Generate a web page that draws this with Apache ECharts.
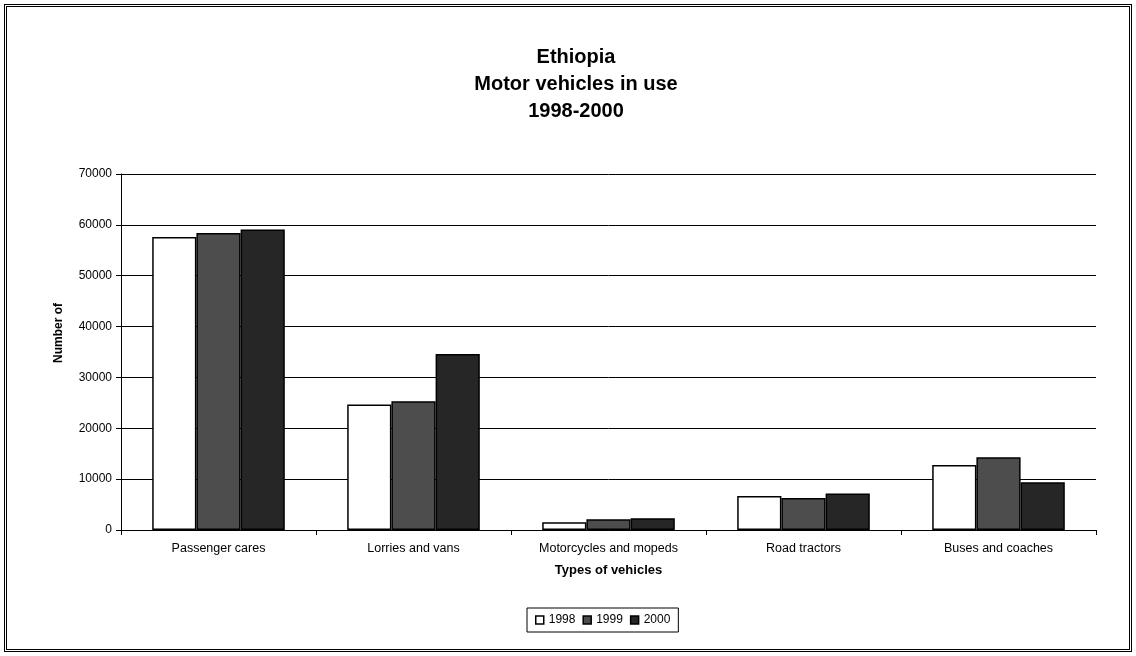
<!DOCTYPE html>
<html>
<head>
<meta charset="utf-8">
<script src="https://cdn.jsdelivr.net/npm/echarts@6/dist/echarts.min.js"></script>
<style>
  html,body{margin:0;padding:0;background:#fff;}
  #frame{position:absolute;left:4px;top:4px;width:1122px;height:642px;border:3px double #000;}
  #main{width:100%;height:100%;}
</style>
</head>
<body>
<div id="frame"><div id="main"></div></div>
<script>
// data
var categories = ['Passenger cares', 'Lorries and vans', 'Motorcycles and mopeds', 'Road tractors', 'Buses and coaches'];
var years = ['1998', '1999', '2000'];
var v1998 = [57600, 24700, 1500, 6700, 12800];
var v1999 = [58400, 25300, 2100, 6300, 14300];
var v2000 = [59100, 34600, 2300, 7200, 9400];
var barColors = ['#ffffff', '#4d4d4d', '#262626'];

var myChart = echarts.init(document.getElementById('main'));

var values = [v1998, v1999, v2000];
var series = [];
for (var i = 0; i < years.length; i++) {
    series.push({
        name: years[i],
        type: 'bar',
        barGap: '0%',
        barCategoryGap: '32%',
        data: values[i],
        itemStyle: {color: barColors[i], borderColor: '#000', borderWidth: 1.5}
    });
}

var font = 'Arial, Liberation Sans, sans-serif';

var option = {
    animation: false,
    textStyle: {fontFamily: font, color: '#000'},
    title: {
        text: 'Ethiopia\nMotor vehicles in use\n1998-2000',
        left: 564, top: 32, textAlign: 'center',
        textStyle: {fontSize: 20, fontWeight: 'bold', lineHeight: 27, color: '#000', fontFamily: font}
    },
    legend: {
        data: years,
        left: 520, top: 601,
        itemWidth: 8, itemHeight: 8, itemGap: 7,
        icon: 'rect',
        borderColor: '#000', borderWidth: 1, padding: [6, 8],
        textStyle: {fontSize: 12, color: '#000'},
        itemStyle: {borderColor: '#000', borderWidth: 1.5}
    },
    // y axis title placed by hand, it sits above the middle of the axis
    graphic: [{
        type: 'text',
        left: 46, top: 296,
        rotation: Math.PI / 2,
        style: {text: 'Number of', fontSize: 12, fontWeight: 'bold', fill: '#000', fontFamily: font}
    }],
    grid: {left: 114, right: 33, top: 167, bottom: 119},
    xAxis: {
        type: 'category',
        data: categories,
        name: 'Types of vehicles',
        nameLocation: 'middle',
        nameGap: 34,
        nameTextStyle: {fontSize: 13, fontWeight: 'bold', color: '#000'},
        axisLine: {lineStyle: {color: '#000'}},
        axisTick: {show: true, lineStyle: {color: '#000'}},
        axisLabel: {fontSize: 12.5, color: '#000', margin: 12}
    },
    yAxis: {
        type: 'value',
        min: 0, max: 70000, interval: 10000,
        axisLine: {show: true, lineStyle: {color: '#000'}},
        axisTick: {show: true, lineStyle: {color: '#000'}},
        axisLabel: {fontSize: 12, color: '#000', margin: 9, formatter: function (v) { return String(v); }},
        splitLine: {lineStyle: {color: '#000', width: 1}}
    },
    series: series
};

myChart.setOption(option);
window.onresize = myChart.resize;
</script>
</body>
</html>
